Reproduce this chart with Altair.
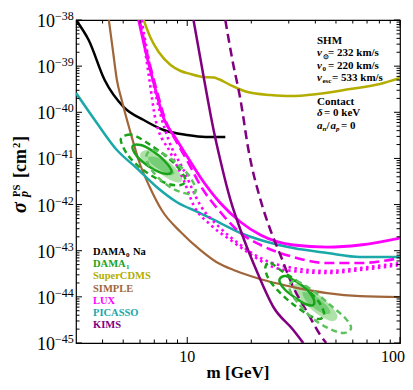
import altair as alt
import pandas as pd

# ---------------- data ----------------
dama0_m = [3.0, 3.44, 4.09, 5.03, 6.24, 7.74, 9.92, 12.2, 15.1]
dama0_s = [1.0e-38, 3.69e-39, 5.01e-40, 1.30e-40, 6.80e-41, 4.13e-41, 3.22e-41, 2.91e-41, 2.91e-41]

cdms_m = [6.24, 6.73, 7.34, 8.35, 9.31, 10.36, 11.9, 13.3, 14.0, 15.96, 19.2, 24.6, 30.5, 40.8, 58.3, 80.5, 100]
cdms_s = [1.0e-38, 4.07e-39, 2.02e-39, 1.06e-39, 7.85e-40, 6.76e-40, 5.82e-40, 5.68e-40, 5.26e-40,
          3.90e-40, 2.75e-40, 2.37e-40, 2.25e-40, 2.49e-40, 3.20e-40, 4.10e-40, 5.53e-40]

simple_m = [4.28, 4.47, 4.67, 4.92, 5.37, 5.97, 6.66, 7.58, 9.31, 11.5, 13.7, 16.5, 19.8, 23.8, 31.5, 45.5, 64.9, 100]
simple_s = [1.0e-38, 2.24e-39, 5.01e-40, 1.85e-40, 4.13e-41, 7.96e-42, 2.40e-42, 7.62e-43, 2.54e-43,
            1.04e-43, 5.69e-44, 3.82e-44, 2.83e-44, 2.20e-44, 1.63e-44, 1.21e-44, 1.04e-44, 9.93e-45]

picasso_m = [3.0, 3.76, 4.67, 5.78, 7.18, 8.91, 11.5, 14.3, 17.8, 22.1, 31.5, 45.5, 64.9, 100]
picasso_s = [2.62e-40, 5.86e-41, 1.52e-41, 6.20e-42, 2.40e-42, 1.14e-42, 6.56e-43, 3.98e-43, 2.42e-43,
             1.71e-43, 1.14e-43, 8.91e-44, 7.31e-44, 7.31e-44]

lux_m = [5.91, 6.52, 7.10, 7.74, 8.81, 10.03, 11.5, 14.3, 17.8, 22.1, 31.5, 45.5, 64.9, 100]
lux_s = [1.0e-38, 1.36e-39, 3.04e-40, 7.51e-41, 2.77e-41, 1.07e-41, 3.96e-42, 1.08e-42, 4.19e-43,
         2.19e-43, 1.33e-43, 1.20e-43, 1.33e-43, 1.88e-43]

luxdash_m = [5.97, 6.59, 7.18, 7.83, 8.91, 10.14, 11.5, 14.3, 17.8, 22.1, 31.5, 45.5, 64.9, 100]
luxdash_s = [1.0e-38, 1.36e-39, 3.04e-40, 7.51e-41, 2.27e-41, 7.96e-42, 2.65e-42, 6.90e-43, 2.42e-43,
             1.33e-43, 7.31e-44, 5.41e-44, 5.41e-44, 6.95e-44]

luxdotA_m = [6.10, 6.73, 7.50, 8.17, 9.61, 11.5, 14.3, 17.8, 22.1, 31.5, 45.5, 64.9, 100]
luxdotA_s = [1.0e-38, 8.25e-40, 8.73e-41, 2.51e-41, 5.61e-42, 9.78e-43, 3.10e-43, 1.33e-43, 6.95e-44,
             4.22e-44, 3.63e-44, 4.22e-44, 5.41e-44]

luxdotB_m = [6.04, 6.59, 7.10, 8.35, 9.61, 10.70, 12.9, 15.96, 19.8, 24.6, 31.5, 45.5, 64.9, 100]
luxdotB_s = [1.0e-38, 6.43e-40, 6.80e-41, 1.31e-41, 3.41e-42, 9.78e-43, 3.61e-43, 1.71e-43, 8.48e-44,
             4.66e-44, 3.63e-44, 3.28e-44, 3.82e-44, 4.90e-44]

kims_m = [10.70, 11.9, 13.3, 14.3, 15.96, 17.8, 21.4, 25.4, 31.5, 35.1]
kims_s = [1.0e-38, 6.43e-40, 4.13e-41, 9.24e-42, 1.26e-42, 2.81e-43, 3.28e-44, 6.03e-45, 1.91e-45, 1.0e-45]

kimsdash_m = [15.1, 16.3, 17.8, 19.4, 22.1, 24.6, 27.4, 31.5, 36.6, 42.2, 45.0]
kimsdash_s = [1.0e-38, 1.36e-39, 1.85e-40, 1.52e-41, 1.26e-42, 2.81e-43, 8.07e-44, 1.63e-44, 4.69e-45,
              1.49e-45, 1.0e-45]

# DAMA1 contours (closed loops), low-mass and high-mass islands
lo_dash_m = [4.87, 5.20, 5.72, 6.73, 7.91, 9.10, 9.82, 9.31, 8.17, 7.10, 6.04, 5.25]
lo_dash_s = [2.51e-41, 3.22e-41, 3.06e-41, 1.95e-41, 1.13e-41, 6.20e-42, 3.41e-42, 2.65e-42, 2.79e-42,
             3.77e-42, 6.20e-42, 1.19e-41]
lo_sol_m = [5.54, 6.04, 6.88, 7.83, 8.44, 8.00, 7.03, 6.10, 5.66]
lo_sol_s = [1.86e-41, 1.95e-41, 1.45e-41, 8.79e-42, 5.34e-42, 4.60e-42, 5.61e-42, 8.79e-42, 1.31e-41]
lo_ldash_m = [6.44, 6.88, 7.74, 8.91, 10.14, 10.94, 10.59, 9.31, 8.17, 7.18, 6.59]
lo_ldash_s = [1.19e-41, 1.52e-41, 1.25e-41, 7.96e-42, 4.37e-42, 2.29e-42, 1.69e-42, 1.87e-42, 2.52e-42,
              4.16e-42, 7.20e-42]
lo_fill_m = [6.04, 6.59, 7.50, 8.53, 9.40, 9.31, 8.53, 7.50, 6.59, 6.10]
lo_fill_s = [1.31e-41, 1.52e-41, 1.13e-41, 7.20e-42, 4.16e-42, 3.08e-42, 3.24e-42, 4.60e-42, 6.85e-42, 9.71e-42]
lo_core_m = [6.59, 7.34, 8.17, 8.72, 8.17, 7.34, 6.73]
lo_core_s = [1.07e-41, 1.02e-41, 7.20e-42, 4.83e-42, 4.37e-42, 5.90e-42, 7.96e-42]

hi_dash_m = [23.3, 24.6, 27.4, 32.2, 37.8, 42.2, 44.0, 41.2, 35.9, 30.5, 26.5, 24.0]
hi_dash_s = [4.43e-44, 5.41e-44, 3.82e-44, 2.32e-44, 1.27e-44, 7.00e-45, 4.04e-45, 3.31e-45, 4.47e-45,
             7.73e-45, 1.41e-44, 2.56e-44]
hi_sol_m = [27.1, 28.9, 32.2, 36.3, 39.1, 39.1, 35.9, 31.8, 28.6]
hi_sol_s = [2.32e-44, 2.83e-44, 2.20e-44, 1.48e-44, 9.44e-45, 6.66e-45, 7.00e-45, 9.93e-45, 1.48e-44]
hi_ldash_m = [30.2, 32.5, 39.1, 47.0, 55.2, 58.9, 54.1, 45.9, 38.7, 33.2, 30.8]
hi_ldash_s = [1.81e-44, 2.20e-44, 1.34e-44, 6.66e-45, 3.48e-45, 2.11e-45, 1.64e-45, 2.11e-45, 3.48e-45,
              7.35e-45, 1.21e-44]
hi_fill_m = [31.5, 34.0, 39.9, 45.9, 50.7, 48.5, 42.2, 36.3, 32.5]
hi_fill_s = [1.72e-44, 1.90e-44, 1.27e-44, 7.35e-45, 4.04e-45, 2.99e-45, 3.85e-45, 6.66e-45, 1.10e-44]
hi_core_m = [35.1, 39.9, 45.0, 47.0, 43.1, 37.8, 35.5]
hi_core_s = [1.27e-44, 1.04e-44, 6.66e-45, 4.47e-45, 4.47e-45, 6.66e-45, 9.44e-45]

# axes / labels
x_major = [10, 100]
x_labels = ["10", "100"]
x_minor = [4, 5, 6, 7, 8, 9, 20, 30, 40, 50, 60, 70, 80, 90]
y_major = [1e-38, 1e-39, 1e-40, 1e-41, 1e-42, 1e-43, 1e-44, 1e-45]
y_exp = ["\u221238", "\u221239", "\u221240", "\u221241", "\u221242", "\u221243", "\u221244", "\u221245"]
y_minor = [k * 10.0 ** e for e in range(-45, -38) for k in range(2, 10)]

legend_labels = ["DAMA", "DAMA", "SuperCDMS", "SIMPLE", "LUX", "PICASSO", "KIMS"]
legend_subs = ["0", "1", "", "", "", "", ""]
legend_tails = ["Na", "", "", "", "", "", ""]
legend_colors = ["#000000", "#1aa31a", "#b3ad00", "#a0663a", "#ff00ff", "#1aa8a8", "#800080"]

# ---------------- chart ----------------
W, H = 324, 323
SERIF = "Liberation Serif"
xs = alt.Scale(type="log", domain=[3, 100], nice=False)
ys = alt.Scale(type="log", domain=[1e-45, 1e-38], nice=False)


def frame(m, s):
    return pd.DataFrame({"m": m, "s": s, "i": list(range(len(m)))})


def enc(ch):
    return ch.encode(
        x=alt.X("m:Q", scale=xs, axis=None),
        y=alt.Y("s:Q", scale=ys, axis=None),
        order=alt.Order("i:Q"),
    )


def curve(m, s, color, width=2.5, dash=None, interp="monotone"):
    kw = dict(color=color, strokeWidth=width, clip=True, interpolate=interp)
    if dash:
        kw["strokeDash"] = dash
    return enc(alt.Chart(frame(m, s)).mark_line(**kw))


def blob(m, s, fill, opacity):
    return enc(alt.Chart(frame(m, s)).mark_line(
        interpolate="cardinal-closed", clip=True, fill=fill, fillOpacity=opacity,
        stroke=fill, strokeOpacity=0.3, strokeWidth=0.5))


one = pd.DataFrame({"a": [0]})


def txt(t, x, y, size, color="black", weight="bold", style="normal", align="left",
        baseline="middle", angle=None):
    kw = dict(text=t, font=SERIF, fontSize=size, fontWeight=weight, fontStyle=style,
              color=color, align=align, baseline=baseline)
    if angle is not None:
        kw["angle"] = angle
    return alt.Chart(one).mark_text(**kw).encode(x=alt.value(x), y=alt.value(y))


def xticks(vals, y0, y1):
    return alt.Chart(pd.DataFrame({"m": vals})).mark_rule(color="black", strokeWidth=1).encode(
        x=alt.X("m:Q", scale=xs, axis=None), y=alt.value(y0), y2=alt.value(y1))


def yticks(vals, x0, x1):
    return alt.Chart(pd.DataFrame({"s": vals})).mark_rule(color="black", strokeWidth=1).encode(
        y=alt.Y("s:Q", scale=ys, axis=None), x=alt.value(x0), x2=alt.value(x1))


DG, LG = "#1aa31a", "#5cc25c"
layers = [
    blob(lo_fill_m, lo_fill_s, "#a6dfa0", 0.9),
    blob(lo_core_m, lo_core_s, "#6fcc6f", 0.9),
    blob(hi_fill_m, hi_fill_s, "#a6dfa0", 0.9),
    blob(hi_core_m, hi_core_s, "#6fcc6f", 0.9),
    curve(dama0_m, dama0_s, "#000000"),
    curve(cdms_m, cdms_s, "#b3ad00"),
    curve(simple_m, simple_s, "#a0663a", width=2.2),
    curve(picasso_m, picasso_s, "#1aa8a8"),
    curve(lux_m, lux_s, "#ff00ff", width=2.8),
    curve(luxdash_m, luxdash_s, "#ff00ff", width=2.6, dash=[10, 5]),
    curve(luxdotA_m, luxdotA_s, "#ff00ff", width=2.6, dash=[2.5, 3.5]),
    curve(luxdotB_m, luxdotB_s, "#ff00ff", width=2.6, dash=[2.5, 3.5]),
    curve(kims_m, kims_s, "#800080"),
    curve(kimsdash_m, kimsdash_s, "#800080", dash=[9, 5]),
    curve(lo_dash_m, lo_dash_s, DG, width=2.5, dash=[6, 4], interp="cardinal-closed"),
    curve(lo_sol_m, lo_sol_s, DG, width=2.5, interp="cardinal-closed"),
    curve(lo_ldash_m, lo_ldash_s, LG, width=2.5, dash=[6, 4], interp="cardinal-closed"),
    curve(hi_dash_m, hi_dash_s, DG, width=2.5, dash=[6, 4], interp="cardinal-closed"),
    curve(hi_sol_m, hi_sol_s, DG, width=2.5, interp="cardinal-closed"),
    curve(hi_ldash_m, hi_ldash_s, LG, width=2.5, dash=[6, 4], interp="cardinal-closed"),
    # inward ticks on all four sides
    xticks(x_major, H, H - 6), xticks(x_minor, H, H - 3.5),
    xticks(x_major, 0, 6), xticks(x_minor, 0, 3.5),
    yticks(y_major, 0, 6), yticks(y_minor, 0, 3.5),
    yticks(y_major, W, W - 6), yticks(y_minor, W, W - 3.5),
]

# x tick labels
xlab = pd.DataFrame({"m": x_major, "t": x_labels})
layers.append(alt.Chart(xlab).transform_filter("datum.m < 50").mark_text(
    font=SERIF, fontSize=16, align="center", baseline="alphabetic").encode(
    x=alt.X("m:Q", scale=xs, axis=None), y=alt.value(342), text="t:N"))
layers.append(alt.Chart(xlab).transform_filter("datum.m > 50").mark_text(
    font=SERIF, fontSize=16, align="right", baseline="alphabetic", dx=5).encode(
    x=alt.X("m:Q", scale=xs, axis=None), y=alt.value(342), text="t:N"))

# y tick labels: 10 with superscript exponent
ylab = pd.DataFrame({"s": y_major, "e": y_exp})
layers.append(alt.Chart(ylab).mark_text(text="10", font=SERIF, fontSize=18, align="right",
                                        baseline="middle", dy=2).encode(
    y=alt.Y("s:Q", scale=ys, axis=None), x=alt.value(-21)))
layers.append(alt.Chart(ylab).mark_text(font=SERIF, fontSize=12, align="left",
                                        baseline="middle", dy=-4).encode(
    y=alt.Y("s:Q", scale=ys, axis=None), x=alt.value(-21), text="e:N"))

# axis titles
layers += [
    txt("m [GeV]", 162, 358, 17, align="center", baseline="alphabetic"),
    txt("\u03c3", -50, 193, 20, style="italic", baseline="alphabetic", angle=270),
    txt("PS", -56, 177, 10.5, baseline="alphabetic", angle=270),
    txt("p", -48, 177, 12, style="italic", baseline="alphabetic", angle=270),
    txt("[cm", -50, 158, 18, baseline="alphabetic", angle=270),
    txt("2", -56, 128, 10.5, baseline="alphabetic", angle=270),
    txt("]", -50, 122, 18, baseline="alphabetic", angle=270),
]

# legend
for k, (lab, sub, tail, col) in enumerate(zip(legend_labels, legend_subs, legend_tails, legend_colors)):
    yk = 232 + 12.2 * k
    layers.append(txt(lab, 17, yk, 10.5, color=col))
    if sub:
        layers.append(txt(sub, 50, yk + 3, 7, color=col))
    if tail:
        layers.append(txt(tail, 57, yk, 10.5, color=col))

# annotation box (top right)
layers += [
    txt("SHM", 241, 21, 11),
    txt("v", 241, 33, 11, style="italic"),
    txt("\u2299", 246.5, 37, 7),
    txt("= 232 km/s", 252, 33, 11),
    txt("v", 241, 46, 11, style="italic"),
    txt("0", 246.5, 49, 7),
    txt("= 220 km/s", 252, 46, 11),
    txt("v", 241, 58, 11, style="italic"),
    txt("esc", 246.5, 61, 7),
    txt("= 533 km/s", 256, 58, 11),
    txt("Contact", 241, 82, 11),
    txt("\u03b4", 241, 93, 11, style="italic"),
    txt("= 0 keV", 248, 93, 11),
    txt("a", 241, 106, 11, style="italic"),
    txt("n", 246.5, 109, 7, style="italic"),
    txt("/", 250.5, 106, 11),
    txt("a", 254.5, 106, 11, style="italic"),
    txt("p", 260, 109, 7, style="italic"),
    txt("= 0", 265, 106, 11),
]

chart = alt.layer(*layers).properties(
    width=W, height=H,
    autosize=alt.AutoSizeParams(type="none"),
    padding={"left": 68, "top": 12, "right": 5, "bottom": 39},
).configure_view(stroke="black", strokeWidth=1.2)

chart.save("out.html", embed_options={"renderer": "svg", "actions": False})
